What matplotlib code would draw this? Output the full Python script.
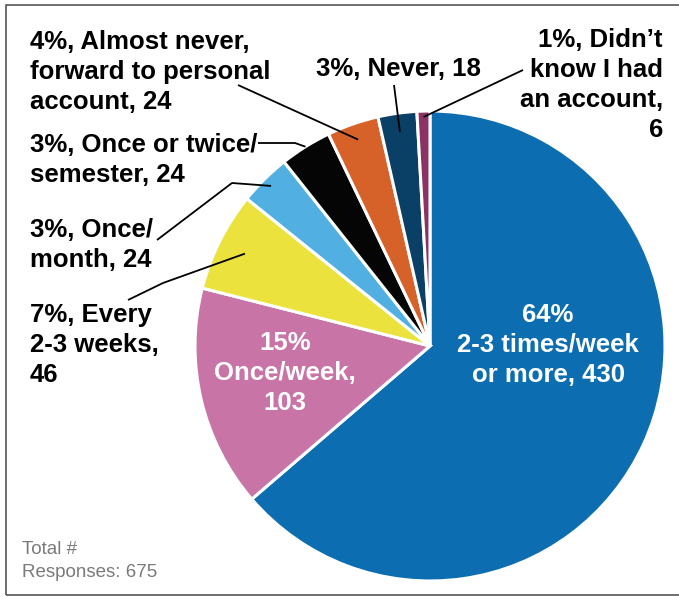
import numpy as np
import matplotlib
matplotlib.use("Agg")
import matplotlib.pyplot as plt
from matplotlib.patches import Rectangle

# ---- data ----
categories = ["2-3 times/week or more", "Once/week", "Every 2-3 weeks", "Once/month",
              "Once or twice/semester", "Almost never, forward to personal account",
              "Never", "Didn't know I had an account"]
counts = [430, 103, 46, 24, 24, 24, 18, 6]
percents = [64, 15, 7, 3, 3, 4, 3, 1]
colors = ["#0C6DB0", "#C874A6", "#ECE23E", "#52AFE1", "#050505", "#D6622A", "#0A3F66", "#8B3163"]
total_label = "Total #\nResponses: 675"

W, H = 679, 597
fig = plt.figure(figsize=(W / 100, H / 100), dpi=100)
ax = fig.add_axes([0, 0, 1, 1])

def Y(py):
    return H - py

CX, CY, R = 430, 346, 235
wedges, _ = ax.pie(counts, colors=colors, startangle=90, counterclock=False,
                   center=(CX, Y(CY)), radius=R,
                   wedgeprops=dict(edgecolor="white", linewidth=2.2))
ax.set_xlim(0, W)
ax.set_ylim(0, H)
ax.set_aspect("equal")
ax.axis("off")

# frame
ax.add_patch(Rectangle((6, Y(595)), 690, 590, fill=False, edgecolor="#555555", linewidth=1.2))

FONT = ["Liberation Sans Narrow", "Liberation Sans", "DejaVu Sans"]
bold = dict(family=FONT, fontweight="bold", fontsize=18.5, linespacing=1.31)

def point_on(i, frac):
    w = wedges[i]
    th = np.deg2rad((w.theta1 + w.theta2) / 2)
    return CX + frac * R * np.cos(th), Y(CY) + frac * R * np.sin(th)

def leader(i, frac, pts):
    x0, y0 = point_on(i, frac)
    xs = [p[0] for p in pts] + [x0]
    ys = [Y(p[1]) for p in pts] + [y0]
    ax.plot(xs, ys, color="black", linewidth=1.3, solid_capstyle="butt")

# in-slice labels
ax.text(548, Y(345), f"{percents[0]}%\n2-3 times/week\nor more, {counts[0]}", color="white",
        ha="center", va="center", **bold)
ax.text(285, Y(373), f"{percents[1]}%\nOnce/week,\n{counts[1]}", color="white",
        ha="center", va="center", **bold)

# outside labels
ax.text(30, Y(345), f"{percents[2]}%, Every\n2-3 weeks,\n{counts[2]}", ha="left", va="center", **bold)
ax.text(30, Y(245), f"{percents[3]}%, Once/\nmonth, {counts[3]}", ha="left", va="center", **bold)
ax.text(30, Y(160), f"{percents[4]}%, Once or twice/\nsemester, {counts[4]}", ha="left", va="center", **bold)
ax.text(30, Y(72), f"{percents[5]}%, Almost never,\nforward to personal\naccount, {counts[5]}",
        ha="left", va="center", **bold)
ax.text(316, Y(69), f"{percents[6]}%, Never, {counts[6]}", ha="left", va="center", **bold)
ax.text(663, Y(85), f"{percents[7]}%, Didn\u2019t\nknow I had\nan account,\n{counts[7]}",
        ha="right", va="center", **bold)

leader(2, 0.88, [(128, 300), (163, 283)])
leader(3, 0.96, [(157, 240), (232, 183)])
leader(4, 1.0, [(258, 143), (295, 143)])
leader(5, 0.93, [(238, 85)])
leader(6, 0.92, [(394, 85)])
leader(7, 0.975, [(523, 70)])

ax.text(22, Y(561), total_label, ha="left", va="center", color="#7a7a7a",
        family=["Liberation Sans", "DejaVu Sans"], fontsize=13.5, linespacing=1.4)

fig.savefig("out.png", dpi=100)
